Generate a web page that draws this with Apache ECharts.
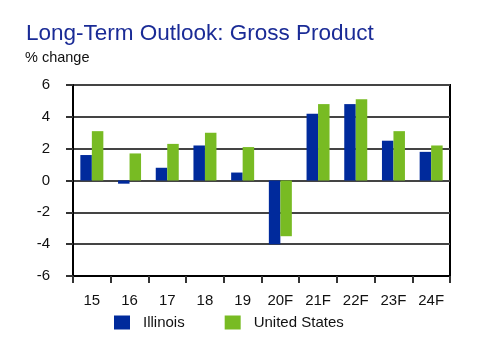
<!DOCTYPE html>
<html>
<head>
<meta charset="utf-8">
<script src="https://cdn.jsdelivr.net/npm/echarts@6/dist/echarts.min.js"></script>
<style>
html,body{margin:0;padding:0;background:#fff;}
#c{width:481px;height:346px;}
</style>
</head>
<body>
<div id="c"></div>
<script>
var categories = ['15','16','17','18','19','20F','21F','22F','23F','24F'];
var illinois = [1.6, -0.2, 0.8, 2.2, 0.5, -4.0, 4.2, 4.8, 2.5, 1.8];
var unitedStates = [3.1, 1.7, 2.3, 3.0, 2.1, -3.5, 4.8, 5.1, 3.1, 2.2];
var yTicks = [-6, -4, -2, 0, 2, 4, 6];

var chart = echarts.init(document.getElementById('c'), null, {renderer:'canvas'});
var font = 'Liberation Sans, Arial, sans-serif';
chart.setOption({
  animation: false,
  backgroundColor: '#fff',
  title: [
    {text: 'Long-Term Outlook: Gross Product', left: 21, top: 17,
     textStyle: {fontFamily: font, fontSize: 22.5, fontWeight: 'normal', color: '#1a2b96'}},
    {text: '% change', left: 20, top: 45,
     textStyle: {fontFamily: font, fontSize: 14.5, fontWeight: 'normal', color: '#111'}}
  ],
  legend: {
    left: 109, top: 310, itemWidth: 16, itemHeight: 14, itemGap: 40,
    icon: 'rect',
    textStyle: {fontFamily: font, fontSize: 15, color: '#111', padding: [0,0,0,8]},
    data: ['Illinois', 'United States']
  },
  grid: {left: 73, right: 31, top: 85, bottom: 70, show: true, borderColor: '#000', borderWidth: 2, backgroundColor: 'transparent'},
  xAxis: {
    type: 'category', data: categories,
    axisLine: {show: true, onZero: false, lineStyle: {color: '#000', width: 2}},
    axisTick: {show: true, length: 7, lineStyle: {color: '#333', width: 2}},
    axisLabel: {fontFamily: font, fontSize: 15, color: '#111', margin: 17}
  },
  yAxis: {
    type: 'value', min: -6, max: 6, interval: 2,
    axisLine: {show: true, lineStyle: {color: '#000', width: 2}},
    axisTick: {show: true, length: 7, lineStyle: {color: '#333', width: 2}},
    axisLabel: {fontFamily: font, fontSize: 15, color: '#111', margin: 23,
      formatter: function(v){ return yTicks.indexOf(v) >= 0 ? String(v) : ''; }},
    splitLine: {show: true, lineStyle: {color: '#444', width: 2}}
  },
  series: [
    {name: 'Illinois', type: 'bar', data: illinois, barGap: 0, barCategoryGap: '39%',
     itemStyle: {color: '#002a9c'}},
    {name: 'United States', type: 'bar', data: unitedStates, barGap: 0, barCategoryGap: '39%',
     itemStyle: {color: '#78bb23'}}
  ]
});
</script>
</body>
</html>
